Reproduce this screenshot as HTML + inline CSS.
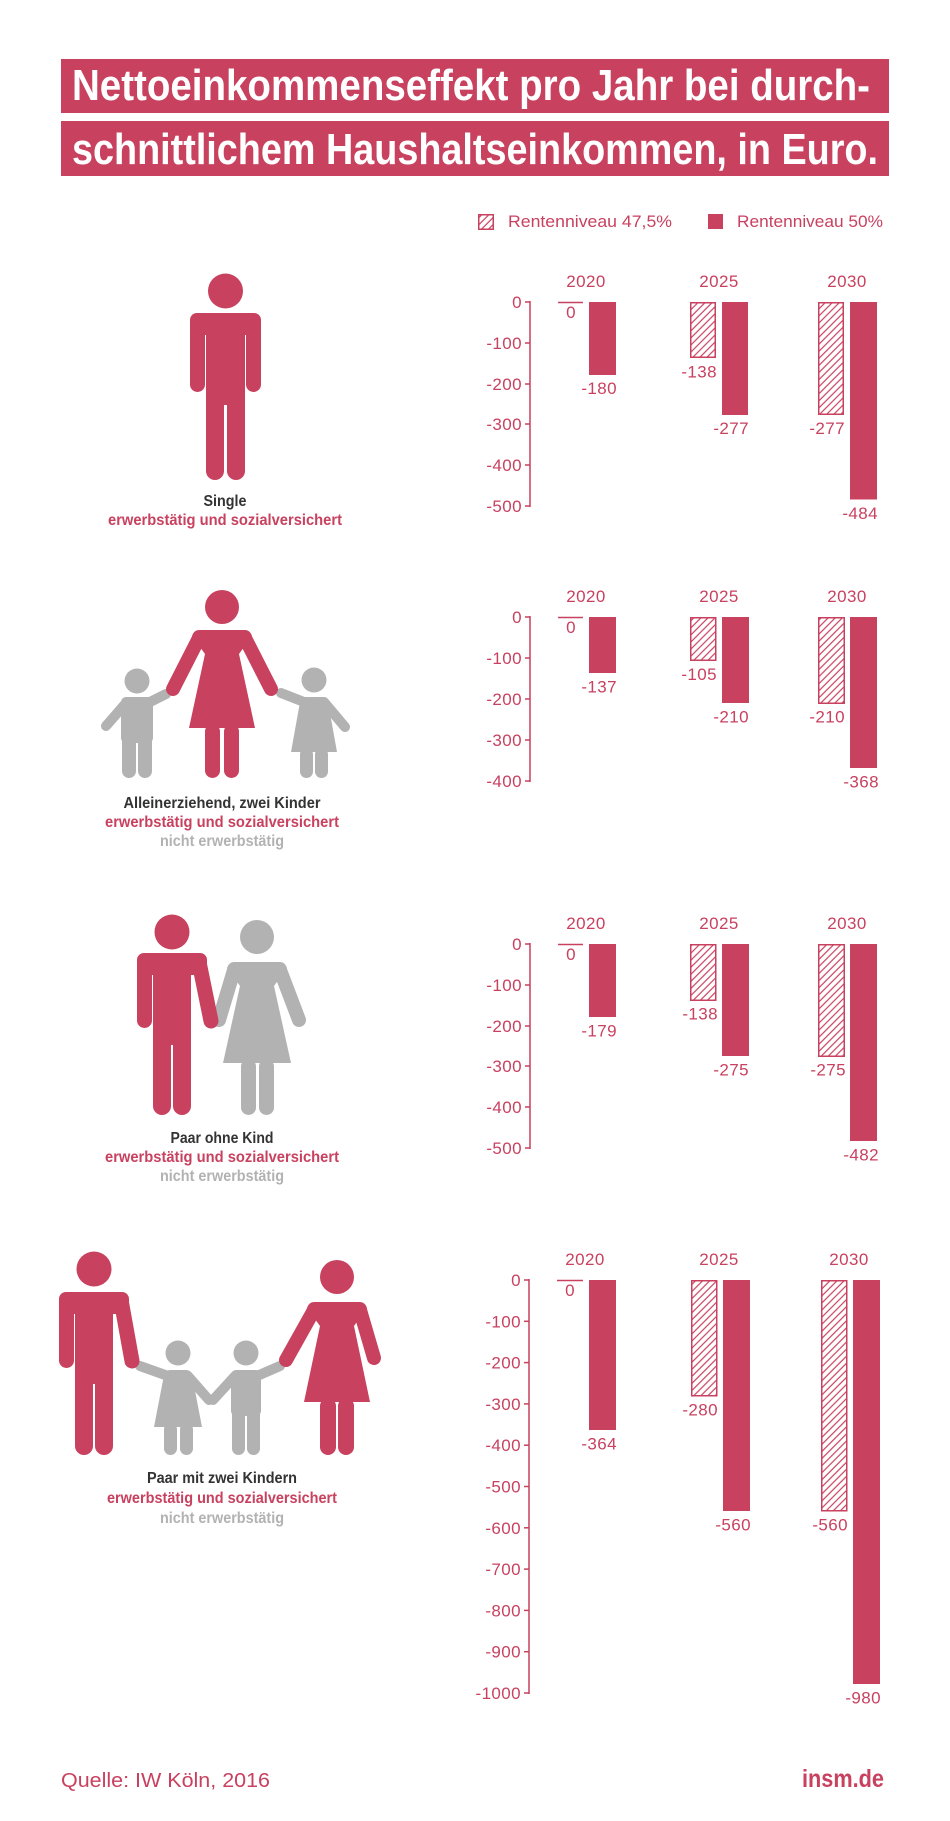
<!DOCTYPE html>
<html><head><meta charset="utf-8"><style>
html,body{margin:0;padding:0;background:#fff;}
svg{display:block;}
.t{font-family:"Liberation Sans",sans-serif;fill:#c8415f;font-size:17px;letter-spacing:0.4px;}
.tk{text-anchor:end;}
.yr{text-anchor:middle;}
.bl{text-anchor:end;}
.cap{font-family:"Liberation Sans Narrow","Liberation Sans",sans-serif;font-weight:bold;font-size:16px;text-anchor:middle;}
</style></head><body>
<svg width="950" height="1821" viewBox="0 0 950 1821" xmlns="http://www.w3.org/2000/svg">
<defs>
<pattern id="h" patternUnits="userSpaceOnUse" width="5" height="5" patternTransform="rotate(45)">
<line x1="2.5" y1="-1" x2="2.5" y2="6" stroke="#c8415f" stroke-width="1.2"/>
</pattern>
</defs>
<rect width="950" height="1821" fill="#fff"/>

<!-- Title -->
<rect x="61" y="59" width="828" height="54" fill="#c8415f"/>
<rect x="61" y="121" width="828" height="55" fill="#c8415f"/>
<text x="72" y="100" font-family="'Liberation Sans Narrow','Liberation Sans',sans-serif" font-weight="bold" font-size="44" fill="#fff" textLength="798" lengthAdjust="spacingAndGlyphs">Nettoeinkommenseffekt pro Jahr bei durch-</text>
<text x="72" y="164" font-family="'Liberation Sans Narrow','Liberation Sans',sans-serif" font-weight="bold" font-size="44" fill="#fff" textLength="806" lengthAdjust="spacingAndGlyphs">schnittlichem Haushaltseinkommen, in Euro.</text>

<!-- Legend -->
<rect x="478.75" y="214.75" width="14.5" height="14.5" fill="url(#h)" stroke="#c8415f" stroke-width="1.5"/>
<text x="508" y="227" font-family="'Liberation Sans',sans-serif" font-size="17" fill="#c8415f" textLength="164" lengthAdjust="spacingAndGlyphs">Rentenniveau 47,5%</text>
<rect x="708" y="214" width="15" height="15" fill="#c8415f"/>
<text x="737" y="227" font-family="'Liberation Sans',sans-serif" font-size="17" fill="#c8415f" textLength="146" lengthAdjust="spacingAndGlyphs">Rentenniveau 50%</text>

<!-- ================= CHART 1 ================= -->
<g>
<line x1="530" y1="301" x2="530" y2="507" stroke="#c8415f" stroke-width="1.5"/>
<g stroke="#c8415f" stroke-width="1.5">
<line x1="525" y1="302" x2="530" y2="302"/><line x1="525" y1="343" x2="530" y2="343"/><line x1="525" y1="384" x2="530" y2="384"/><line x1="525" y1="424" x2="530" y2="424"/><line x1="525" y1="465" x2="530" y2="465"/><line x1="525" y1="506" x2="530" y2="506"/>
</g>
<g class="t tk">
<text x="522" y="308">0</text><text x="522" y="349">-100</text><text x="522" y="390">-200</text><text x="522" y="430">-300</text><text x="522" y="471">-400</text><text x="522" y="512">-500</text>
</g>
<g class="t yr"><text x="586" y="287">2020</text><text x="719" y="287">2025</text><text x="847" y="287">2030</text></g>
<line x1="558" y1="302.5" x2="583" y2="302.5" stroke="#c8415f" stroke-width="1.5"/>
<rect x="589" y="302" width="27" height="73" fill="#c8415f"/>
<rect x="690.75" y="302.75" width="24.5" height="54.5" fill="url(#h)" stroke="#c8415f" stroke-width="1.5"/>
<rect x="722" y="302" width="26" height="113" fill="#c8415f"/>
<rect x="818.75" y="302.75" width="24.5" height="111.5" fill="url(#h)" stroke="#c8415f" stroke-width="1.5"/>
<rect x="850" y="302" width="27" height="197.5" fill="#c8415f"/>
<g class="t bl">
<text x="617" y="394">-180</text><text x="717" y="377.5">-138</text><text x="749" y="434">-277</text><text x="845" y="434">-277</text><text x="878" y="519">-484</text>
</g>
<text class="t yr" x="571" y="318">0</text>
</g>

<!-- ================= CHART 2 ================= -->
<g>
<line x1="530" y1="616" x2="530" y2="782" stroke="#c8415f" stroke-width="1.5"/>
<g stroke="#c8415f" stroke-width="1.5">
<line x1="525" y1="617" x2="530" y2="617"/><line x1="525" y1="658" x2="530" y2="658"/><line x1="525" y1="699" x2="530" y2="699"/><line x1="525" y1="740" x2="530" y2="740"/><line x1="525" y1="781" x2="530" y2="781"/>
</g>
<g class="t tk">
<text x="522" y="623">0</text><text x="522" y="664">-100</text><text x="522" y="705">-200</text><text x="522" y="746">-300</text><text x="522" y="787">-400</text>
</g>
<g class="t yr"><text x="586" y="602">2020</text><text x="719" y="602">2025</text><text x="847" y="602">2030</text></g>
<line x1="558" y1="617.5" x2="583" y2="617.5" stroke="#c8415f" stroke-width="1.5"/>
<rect x="589" y="617" width="27" height="56" fill="#c8415f"/>
<rect x="690.75" y="617.75" width="25" height="42.5" fill="url(#h)" stroke="#c8415f" stroke-width="1.5"/>
<rect x="722" y="617" width="27" height="86" fill="#c8415f"/>
<rect x="818.75" y="617.75" width="25.5" height="85.5" fill="url(#h)" stroke="#c8415f" stroke-width="1.5"/>
<rect x="850" y="617" width="27" height="151" fill="#c8415f"/>
<g class="t bl">
<text x="617" y="692.5">-137</text><text x="717" y="680">-105</text><text x="749" y="722.5">-210</text><text x="845" y="722.5">-210</text><text x="879" y="787.5">-368</text>
</g>
<text class="t yr" x="571" y="633">0</text>
</g>

<!-- ================= CHART 3 ================= -->
<g>
<line x1="530" y1="943" x2="530" y2="1149" stroke="#c8415f" stroke-width="1.5"/>
<g stroke="#c8415f" stroke-width="1.5">
<line x1="525" y1="944" x2="530" y2="944"/><line x1="525" y1="985" x2="530" y2="985"/><line x1="525" y1="1026" x2="530" y2="1026"/><line x1="525" y1="1066" x2="530" y2="1066"/><line x1="525" y1="1107" x2="530" y2="1107"/><line x1="525" y1="1148" x2="530" y2="1148"/>
</g>
<g class="t tk">
<text x="522" y="950">0</text><text x="522" y="991">-100</text><text x="522" y="1032">-200</text><text x="522" y="1072">-300</text><text x="522" y="1113">-400</text><text x="522" y="1154">-500</text>
</g>
<g class="t yr"><text x="586" y="929">2020</text><text x="719" y="929">2025</text><text x="847" y="929">2030</text></g>
<line x1="558" y1="944.5" x2="583" y2="944.5" stroke="#c8415f" stroke-width="1.5"/>
<rect x="589" y="944" width="27" height="73" fill="#c8415f"/>
<rect x="690.75" y="944.75" width="25" height="55.5" fill="url(#h)" stroke="#c8415f" stroke-width="1.5"/>
<rect x="722" y="944" width="27" height="112" fill="#c8415f"/>
<rect x="818.75" y="944.75" width="25.5" height="111.5" fill="url(#h)" stroke="#c8415f" stroke-width="1.5"/>
<rect x="850" y="944" width="27" height="197" fill="#c8415f"/>
<g class="t bl">
<text x="617" y="1036.5">-179</text><text x="718" y="1019.5">-138</text><text x="749" y="1075.5">-275</text><text x="846" y="1075.5">-275</text><text x="879" y="1160.5">-482</text>
</g>
<text class="t yr" x="571" y="960">0</text>
</g>

<!-- ================= CHART 4 ================= -->
<g>
<line x1="529" y1="1279" x2="529" y2="1694" stroke="#c8415f" stroke-width="1.5"/>
<g stroke="#c8415f" stroke-width="1.5">
<line x1="524" y1="1280" x2="529" y2="1280"/><line x1="524" y1="1321.3" x2="529" y2="1321.3"/><line x1="524" y1="1362.6" x2="529" y2="1362.6"/><line x1="524" y1="1403.9" x2="529" y2="1403.9"/><line x1="524" y1="1445.2" x2="529" y2="1445.2"/><line x1="524" y1="1486.5" x2="529" y2="1486.5"/><line x1="524" y1="1527.8" x2="529" y2="1527.8"/><line x1="524" y1="1569.1" x2="529" y2="1569.1"/><line x1="524" y1="1610.4" x2="529" y2="1610.4"/><line x1="524" y1="1651.7" x2="529" y2="1651.7"/><line x1="524" y1="1693" x2="529" y2="1693"/>
</g>
<g class="t tk">
<text x="521" y="1286">0</text><text x="521" y="1327.3">-100</text><text x="521" y="1368.6">-200</text><text x="521" y="1409.9">-300</text><text x="521" y="1451.2">-400</text><text x="521" y="1492.5">-500</text><text x="521" y="1533.8">-600</text><text x="521" y="1575.1">-700</text><text x="521" y="1616.4">-800</text><text x="521" y="1657.7">-900</text><text x="521" y="1699">-1000</text>
</g>
<g class="t yr"><text x="585" y="1265">2020</text><text x="719" y="1265">2025</text><text x="849" y="1265">2030</text></g>
<line x1="557" y1="1280.5" x2="583" y2="1280.5" stroke="#c8415f" stroke-width="1.5"/>
<rect x="589" y="1280" width="27" height="150" fill="#c8415f"/>
<rect x="691.75" y="1280.75" width="25" height="115" fill="url(#h)" stroke="#c8415f" stroke-width="1.5"/>
<rect x="723" y="1280" width="27" height="231" fill="#c8415f"/>
<rect x="821.75" y="1280.75" width="25" height="230" fill="url(#h)" stroke="#c8415f" stroke-width="1.5"/>
<rect x="853" y="1280" width="27" height="404" fill="#c8415f"/>
<g class="t bl">
<text x="617" y="1449.5">-364</text><text x="718" y="1415.5">-280</text><text x="751" y="1530.5">-560</text><text x="848" y="1530.5">-560</text><text x="881" y="1703.5">-980</text>
</g>
<text class="t yr" x="570" y="1296">0</text>
</g>

<!-- ================= ICON 1: Single man ================= -->
<g fill="#c8415f">
<circle cx="225.5" cy="291" r="17.5"/>
<rect x="190" y="313" width="71" height="22" rx="7"/>
<rect x="190" y="320" width="15" height="72" rx="7.5"/>
<rect x="246" y="320" width="15" height="72" rx="7.5"/>
<rect x="206" y="318" width="39" height="87"/>
<rect x="206" y="390" width="18" height="90" rx="9"/>
<rect x="227" y="390" width="18" height="90" rx="9"/>
</g>
<text class="cap" x="225" y="506" fill="#333" textLength="43" lengthAdjust="spacingAndGlyphs">Single</text>
<text class="cap" x="225" y="525" fill="#c8415f" textLength="234" lengthAdjust="spacingAndGlyphs">erwerbstätig und sozialversichert</text>

<!-- ================= ICON 2: Single parent ================= -->
<!-- boy -->
<g fill="#b2b2b2" stroke="none">
<circle cx="137" cy="681" r="12.5"/>
<rect x="121" y="697" width="32" height="46" rx="5"/>
<rect x="122" y="735" width="14" height="43" rx="7"/>
<rect x="138" y="735" width="14" height="43" rx="7"/>
</g>
<g stroke="#b2b2b2" stroke-width="10" stroke-linecap="round" fill="none">
<line x1="126" y1="703" x2="106" y2="726"/>
<line x1="148" y1="703" x2="166" y2="694"/>
</g>
<!-- girl -->
<g fill="#b2b2b2">
<circle cx="314" cy="680" r="12.5"/>
<path d="M306 697 L322 697 Q327 697 328 702 L337 752 L291 752 L300 702 Q301 697 306 697 Z"/>
<rect x="300" y="748" width="13" height="30" rx="6.5"/>
<rect x="315" y="748" width="13" height="30" rx="6.5"/>
</g>
<g stroke="#b2b2b2" stroke-width="10" stroke-linecap="round" fill="none">
<line x1="304" y1="702" x2="281" y2="693"/>
<line x1="324" y1="702" x2="345" y2="727"/>
</g>
<!-- mother -->
<g fill="#c8415f">
<circle cx="222" cy="607" r="17"/>
<path d="M199 630 L245 630 Q250 630 252 636 L239 654 L255 728 L189 728 L205 654 L192 636 Q194 630 199 630 Z"/>
<rect x="205" y="724" width="15" height="54" rx="7.5"/>
<rect x="224" y="724" width="15" height="54" rx="7.5"/>
</g>
<g stroke="#c8415f" stroke-width="14" stroke-linecap="round" fill="none">
<line x1="199" y1="638" x2="173" y2="689"/>
<line x1="245" y1="638" x2="271" y2="689"/>
</g>
<text class="cap" x="222" y="808" fill="#333" textLength="197" lengthAdjust="spacingAndGlyphs">Alleinerziehend, zwei Kinder</text>
<text class="cap" x="222" y="827" fill="#c8415f" textLength="234" lengthAdjust="spacingAndGlyphs">erwerbstätig und sozialversichert</text>
<text class="cap" x="222" y="846" fill="#b2b2b2" textLength="124" lengthAdjust="spacingAndGlyphs">nicht erwerbstätig</text>

<!-- ================= ICON 3: Couple ================= -->
<!-- woman gray -->
<g fill="#b2b2b2">
<circle cx="257" cy="937" r="17"/>
<path d="M234 962 L280 962 Q285 962 287 968 L274 986 L291 1063 L223 1063 L240 986 L227 968 Q229 962 234 962 Z"/>
<rect x="241" y="1059" width="15" height="56" rx="7.5"/>
<rect x="259" y="1059" width="15" height="56" rx="7.5"/>
</g>
<g stroke="#b2b2b2" stroke-width="14" stroke-linecap="round" fill="none">
<line x1="234" y1="970" x2="219" y2="1020"/>
<line x1="280" y1="970" x2="299" y2="1020"/>
</g>
<!-- man pink -->
<g fill="#c8415f">
<circle cx="172" cy="932" r="17.5"/>
<rect x="137" y="953" width="70" height="22" rx="7"/>
<rect x="137" y="960" width="15" height="68" rx="7.5"/>
<rect x="153" y="958" width="38" height="87"/>
<rect x="153" y="1030" width="18" height="85" rx="9"/>
<rect x="173" y="1030" width="18" height="85" rx="9"/>
</g>
<line x1="199" y1="962" x2="211" y2="1021" stroke="#c8415f" stroke-width="15" stroke-linecap="round"/>
<text class="cap" x="222" y="1143" fill="#333" textLength="103" lengthAdjust="spacingAndGlyphs">Paar ohne Kind</text>
<text class="cap" x="222" y="1162" fill="#c8415f" textLength="234" lengthAdjust="spacingAndGlyphs">erwerbstätig und sozialversichert</text>
<text class="cap" x="222" y="1181" fill="#b2b2b2" textLength="124" lengthAdjust="spacingAndGlyphs">nicht erwerbstätig</text>

<!-- ================= ICON 4: Couple with two children ================= -->
<!-- girl -->
<g fill="#b2b2b2">
<circle cx="178" cy="1353" r="12.5"/>
<path d="M170 1370 L186 1370 Q191 1370 192 1375 L202 1427 L154 1427 L164 1375 Q165 1370 170 1370 Z"/>
<rect x="164" y="1423" width="13" height="32" rx="6.5"/>
<rect x="180" y="1423" width="13" height="32" rx="6.5"/>
</g>
<g stroke="#b2b2b2" stroke-width="10" stroke-linecap="round" fill="none">
<line x1="168" y1="1376" x2="140" y2="1366"/>
<line x1="188" y1="1376" x2="209" y2="1400"/>
</g>
<!-- boy -->
<g fill="#b2b2b2">
<circle cx="246" cy="1353" r="12.5"/>
<rect x="231" y="1370" width="30" height="46" rx="5"/>
<rect x="232" y="1408" width="13" height="47" rx="6.5"/>
<rect x="247" y="1408" width="13" height="47" rx="6.5"/>
</g>
<g stroke="#b2b2b2" stroke-width="10" stroke-linecap="round" fill="none">
<line x1="235" y1="1376" x2="213" y2="1400"/>
<line x1="257" y1="1376" x2="280" y2="1366"/>
</g>
<!-- man -->
<g fill="#c8415f">
<circle cx="94" cy="1269" r="17.5"/>
<rect x="59" y="1292" width="70" height="22" rx="7"/>
<rect x="59" y="1299" width="15" height="69" rx="7.5"/>
<rect x="75" y="1297" width="38" height="87"/>
<rect x="75" y="1370" width="18" height="85" rx="9"/>
<rect x="95" y="1370" width="18" height="85" rx="9"/>
</g>
<line x1="121" y1="1300" x2="132" y2="1361" stroke="#c8415f" stroke-width="15" stroke-linecap="round"/>
<!-- woman -->
<g fill="#c8415f">
<circle cx="337" cy="1277" r="17"/>
<path d="M314 1302 L360 1302 Q365 1302 367 1308 L354 1326 L370 1402 L304 1402 L320 1326 L307 1308 Q309 1302 314 1302 Z"/>
<rect x="320" y="1398" width="16" height="57" rx="8"/>
<rect x="338" y="1398" width="16" height="57" rx="8"/>
</g>
<g stroke="#c8415f" stroke-width="14" stroke-linecap="round" fill="none">
<line x1="314" y1="1310" x2="286" y2="1360"/>
<line x1="360" y1="1310" x2="374" y2="1358"/>
</g>
<text class="cap" x="222" y="1483" fill="#333" textLength="150" lengthAdjust="spacingAndGlyphs">Paar mit zwei Kindern</text>
<text class="cap" x="222" y="1503" fill="#c8415f" textLength="230" lengthAdjust="spacingAndGlyphs">erwerbstätig und sozialversichert</text>
<text class="cap" x="222" y="1523" fill="#b2b2b2" textLength="124" lengthAdjust="spacingAndGlyphs">nicht erwerbstätig</text>

<!-- Footer -->
<text x="61" y="1787" font-family="'Liberation Sans Narrow','Liberation Sans',sans-serif" font-size="20" fill="#c8415f" textLength="209" lengthAdjust="spacingAndGlyphs">Quelle: IW Köln, 2016</text>
<text x="802" y="1787" font-family="'Liberation Sans Narrow','Liberation Sans',sans-serif" font-weight="bold" font-size="25" fill="#c8415f" textLength="82" lengthAdjust="spacingAndGlyphs">insm.de</text>
</svg>
</body></html>
